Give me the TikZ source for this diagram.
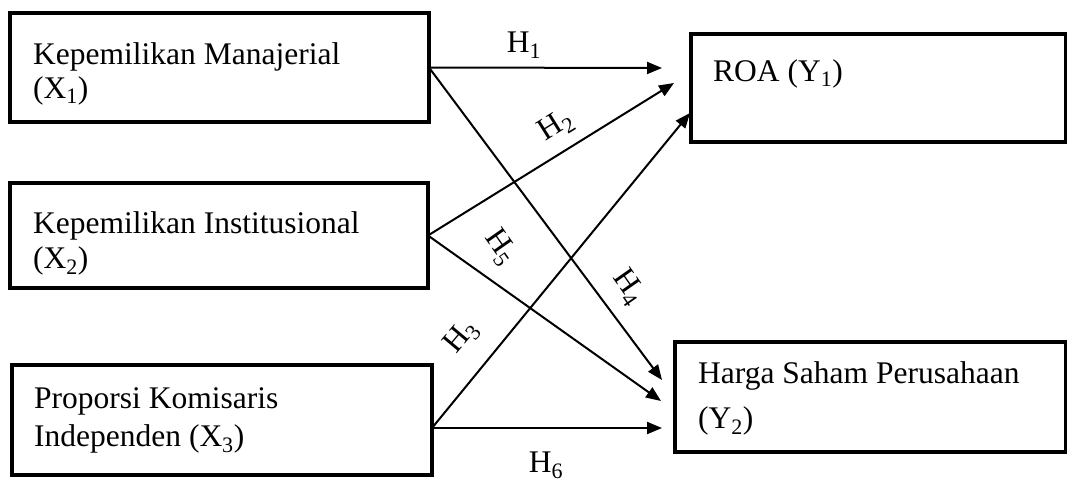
\documentclass[tikz,border=0pt]{standalone}
\usepackage{fontspec}
\setmainfont{Liberation Serif}
\usetikzlibrary{arrows.meta,calc}
\begin{document}
\begin{tikzpicture}[x=1pt,y=-1pt,
  box/.style={draw=black,line width=4.5pt,inner sep=0pt,outer sep=0pt,anchor=north west},
  txt/.style={inner sep=0pt,anchor=base west,font=\fontsize{31.5}{36}\selectfont},
  lab/.style={inner sep=0pt,font=\fontsize{31.5}{36}\selectfont},
  arr/.style={line width=2pt,-{Triangle[length=15pt,width=12pt]}}]
\useasboundingbox (0,0) rectangle (1067,482);
% boxes
\node[box,minimum width=419pt,minimum height=109pt] (x1) at (10,13) {};
\node[box,minimum width=418pt,minimum height=105pt] (x2) at (10,183) {};
\node[box,minimum width=420pt,minimum height=110pt] (x3) at (12,365) {};
\node[box,minimum width=375pt,minimum height=108pt] (y1) at (691,34) {};
\node[box,minimum width=391pt,minimum height=110pt] (y2) at (675,342) {};
% texts
\node[txt] (x1a) at (33,64) {Kepemilikan Manajerial};
\node[txt] (x1b) at (33,98) {(X\textsubscript{1})};
\node[txt] (x2a) at (33,233) {Kepemilikan Institusional};
\node[txt] (x2b) at (33,268) {(X\textsubscript{2})};
\node[txt] (x3a) at (34,408) {Proporsi Komisaris};
\node[txt] (x3b) at (34,446) {Independen (X\textsubscript{3})};
\node[txt] (y1a) at (713,81) {ROA (Y\textsubscript{1})};
\node[txt] (y2a) at (698,383) {Harga Saham Perusahaan};
\node[txt] (y2b) at (698,428) {(Y\textsubscript{2})};
% connector ends
\coordinate (x3o) at ($(x3.east)+(0,8)$);
\coordinate (t1) at (662,68);
\coordinate (t2) at (674,83);
\coordinate (t3) at (690,113);
\coordinate (t4) at (662,380);
\coordinate (t5) at (661,401);
\coordinate (t6) at (662,428);
% arrows
\draw[arr] (x1.east) -- (t1);
\draw[arr] (x1.east) -- (t4);
\draw[arr] (x2.east) -- (t2);
\draw[arr] (x2.east) -- (t5);
\draw[arr] (x3o) -- (t3);
\draw[arr] (x3o) -- (t6);
% labels
\node[lab] (h1) at (524,45) {H\textsubscript{1}};
\node[lab,rotate=32] (h2) at (556,126) {H\textsubscript{2}};
\node[lab,rotate=50] (h3) at (462,337) {H\textsubscript{3}};
\node[lab,rotate=-55] (h4) at (628,287) {H\textsubscript{4}};
\node[lab,rotate=-55] (h5) at (500,247) {H\textsubscript{5}};
\node[lab] (h6) at (546,465) {H\textsubscript{6}};
\end{tikzpicture}
\end{document}
